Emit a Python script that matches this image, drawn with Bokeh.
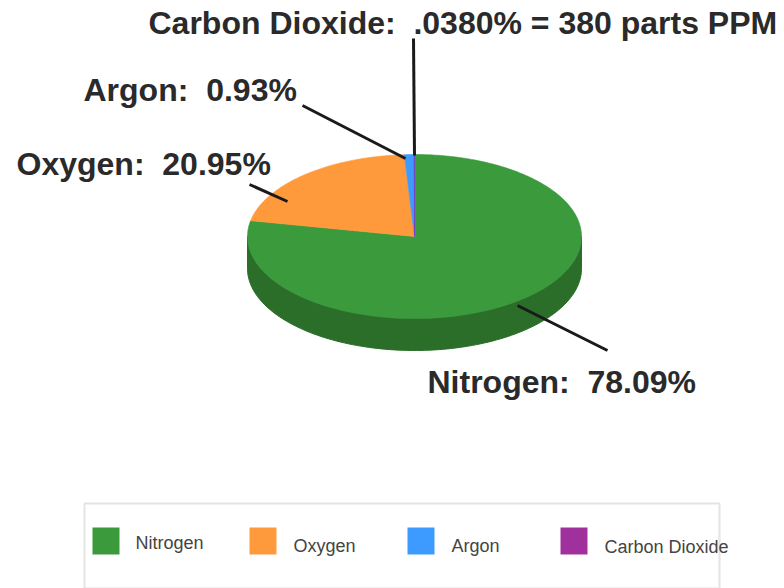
import numpy as np
from bokeh.plotting import figure
from bokeh.models import Range1d
from bokeh.core.properties import value
from bokeh.embed import file_html
from bokeh.resources import INLINE

gases = ["Nitrogen", "Oxygen", "Argon", "Carbon Dioxide"]
shares = [78.09, 20.95, 0.93, 0.038]
colors = ["#3A9A3C", "#FF9A3C", "#3D9BFF", "#7A35C8"]
legend_colors = ["#3A9A3C", "#FF9A3C", "#3D9BFF", "#A0309C"]
labels = ["Carbon Dioxide:\u00a0 .0380% = 380 parts PPM", "Argon:\u00a0 0.93%", "Oxygen:\u00a0 20.95%", "Nitrogen:\u00a0 78.09%"]

CX, CY, RX, RY, DEPTH = 414, 236, 167, 82, 32

p = figure(width=784, height=588, output_backend="svg", toolbar_location=None,
           x_range=Range1d(0, 784), y_range=Range1d(588, 0), min_border=0)
p.axis.visible = False
p.grid.visible = False
p.outline_line_color = None
p.background_fill_color = "white"

def rim(a0, a1, n=120):
    t = np.radians(np.linspace(a0, a1, n))
    return CX + RX * np.sin(t), CY - RY * np.cos(t)

# side wall, lower half of the rim
wx, wy = rim(90, 270)
p.patch(np.r_[wx, wx[::-1]], np.r_[wy, wy[::-1] + DEPTH], fill_color="#2A6E2A", line_color="#2A6E2A")

# top faces, clockwise from twelve o'clock
total = sum(shares)
start = 0.0
for share, col in zip(shares, colors):
    end = start + 360 * share / total
    x, y = rim(start, end, max(2, int(share * 4)))
    p.patch(np.r_[CX, x], np.r_[CY, y], fill_color=col, line_color=col, line_width=0.6)
    start = end

# leader lines
p.segment([413, 302, 249, 517], [38, 105, 184, 305], [414, 405, 287, 607], [155, 158, 201, 350],
          line_color="#1A1A1A", line_width=3)

# callouts
p.text([148, 83, 16, 427], [22, 89, 163, 381], text=labels, text_font=value("Liberation Sans"),
       text_font_style="bold", text_font_size="32px", text_color="#2A2A2A",
       text_baseline="middle", text_align="left")

# legend box
p.quad([84], [719], [503], [588], fill_color="white", line_color="#E4E4E4", line_width=2)
sx = [92, 249, 407, 560]
p.quad(sx, [v + 27 for v in sx], [527] * 4, [554] * 4, fill_color=legend_colors, line_color=None)
p.text([135, 293, 451, 604], [542, 545, 545, 546], text=gases, text_font=value("Liberation Sans"),
       text_font_size="18px", text_color="#444444", text_baseline="middle")

open("out.html", "w").write(file_html(p, INLINE))
